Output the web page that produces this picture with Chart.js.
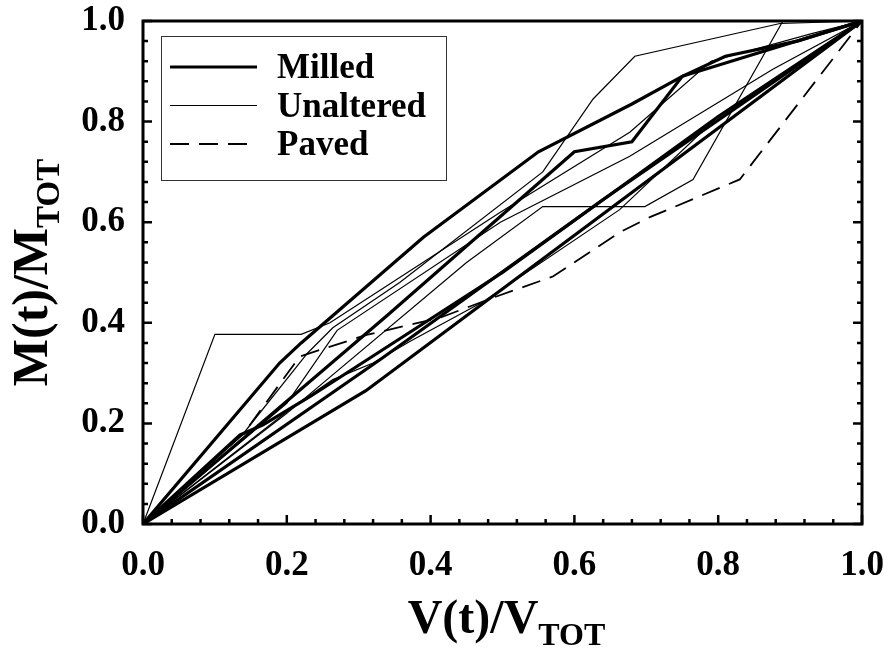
<!DOCTYPE html>
<html>
<head>
<meta charset="utf-8">
<script src="https://cdn.jsdelivr.net/npm/chart.js@4/dist/chart.umd.min.js"></script>
<style>
  html, body { margin: 0; padding: 0; background: #fff; }
  #wrap { width: 888px; height: 651px; }
</style>
</head>
<body>
<div id="wrap"><canvas id="runs" width="888" height="651"></canvas></div>
<script>
// each run is a list of [V(t)/Vtot, M(t)/Mtot] pairs
const milled = [
  [[0, 0], [0.19, 0.32], [0.22, 0.36], [0.39, 0.57], [0.55, 0.74], [0.68, 0.835], [0.75, 0.89], [0.81, 0.93], [0.91, 0.96], [1, 1]],
  [[0, 0], [0.34, 0.415], [0.60, 0.74], [0.68, 0.76], [0.75, 0.89], [1, 1]],
  [[0, 0], [0.135, 0.177], [0.167, 0.197], [0.232, 0.253], [0.5, 0.5], [0.8, 0.81], [1, 1]],
  [[0, 0], [0.33, 0.327], [0.64, 0.645], [1, 1]],
  [[0, 0], [0.31, 0.265], [1, 1]]
];
const unaltered = [
  [[0, 0], [0.10, 0.377], [0.22, 0.377], [0.26, 0.40], [0.497, 0.62], [0.677, 0.779], [0.79, 0.92], [0.93, 0.975], [1, 1]],
  [[0, 0], [0.138, 0.177], [0.229, 0.34], [0.264, 0.39], [0.357, 0.48], [0.556, 0.70], [0.626, 0.845], [0.684, 0.93], [0.886, 0.995], [1, 1]],
  [[0, 0], [0.2, 0.22], [0.45, 0.52], [0.556, 0.631], [0.698, 0.631], [0.765, 0.685], [0.89, 1.0], [1, 1]],
  [[0, 0], [0.2, 0.24], [0.27, 0.385], [0.497, 0.60], [0.677, 0.731], [0.876, 0.904], [1, 1]],
  [[0, 0], [0.209, 0.233], [0.264, 0.287], [0.32, 0.32], [0.371, 0.363], [0.473, 0.442], [0.663, 0.625], [0.8, 0.81], [1, 1]]
];
const paved = [
  [[0, 0], [0.14, 0.18], [0.218, 0.333], [0.311, 0.376], [0.413, 0.41], [0.487, 0.45], [0.57, 0.492], [0.663, 0.58], [0.705, 0.61], [0.83, 0.685], [1, 1]]
];
const legendNames = ["Milled", "Unaltered", "Paved"];
const xTitle = ["V(t)/V", "TOT"];
const yTitle = ["M(t)/M", "TOT"];

const FONT = "'Liberation Serif', 'Times New Roman', serif";
const styles = {
  Milled: { borderWidth: 3.2, borderDash: [] },
  Unaltered: { borderWidth: 1.2, borderDash: [] },
  Paved: { borderWidth: 1.8, borderDash: [19, 10] }
};

const datasets = [];
function addRuns(runs, name) {
  runs.forEach(run => {
    datasets.push({
      label: name,
      data: run.map(p => ({ x: p[0], y: p[1] })),
      showLine: true,
      borderColor: "#000",
      borderWidth: styles[name].borderWidth,
      borderDash: styles[name].borderDash,
      pointRadius: 0,
      tension: 0,
      fill: false
    });
  });
}
addRuns(unaltered, "Unaltered");
addRuns(paved, "Paved");
addRuns(milled, "Milled");

function drawTitle(c, parts, x, y, big, small, drop) {
  c.font = "bold " + big + "px " + FONT;
  const w1 = c.measureText(parts[0]).width;
  c.font = "bold " + small + "px " + FONT;
  const w2 = c.measureText(parts[1]).width;
  const x0 = x - (w1 + w2) / 2;
  c.font = "bold " + big + "px " + FONT;
  c.fillText(parts[0], x0, y);
  c.font = "bold " + small + "px " + FONT;
  c.fillText(parts[1], x0 + w1, y + drop);
}

// frame, inward ticks, legend and axis titles
const decor = {
  id: "decor",
  afterDraw(chart) {
    const c = chart.ctx;
    const a = chart.chartArea;
    const xs = chart.scales.x, ys = chart.scales.y;
    c.save();
    c.strokeStyle = "#000";
    c.lineWidth = 2.5;
    for (let i = 0; i <= 25; i++) {
      const v = i * 0.04;
      const len = i % 5 === 0 ? 9 : 5;
      const px = xs.getPixelForValue(v);
      const py = ys.getPixelForValue(v);
      c.beginPath();
      c.moveTo(px, a.bottom); c.lineTo(px, a.bottom - len);
      c.moveTo(a.left, py); c.lineTo(a.left + len, py);
      c.moveTo(a.right, py); c.lineTo(a.right - len, py);
      c.stroke();
    }
    c.lineWidth = 3;
    c.strokeRect(a.left, a.top, a.right - a.left, a.bottom - a.top);

    // legend
    c.lineWidth = 1;
    c.strokeStyle = "#333";
    c.strokeRect(161.5, 36.5, 285, 144);
    c.fillStyle = "#000";
    c.font = "bold 35px " + FONT;
    c.textBaseline = "middle";
    legendNames.forEach((name, i) => {
      const y = 67 + i * 38.5;
      c.beginPath();
      c.strokeStyle = "#000";
      c.lineWidth = styles[name].borderWidth;
      c.setLineDash(styles[name].borderDash);
      c.moveTo(170, y); c.lineTo(257, y);
      c.stroke();
      c.setLineDash([]);
      c.fillText(name, 277, y + 2);
    });

    c.textBaseline = "alphabetic";
    drawTitle(c, xTitle, (a.left + a.right) / 2 + 4, 633, 48, 32, 12);

    c.save();
    c.translate(47, (a.top + a.bottom) / 2);
    c.rotate(-Math.PI / 2);
    drawTitle(c, yTitle, 0, 0, 50, 33, 12);
    c.restore();
    c.restore();
  }
};

new Chart(document.getElementById("runs"), {
  type: "scatter",
  data: { datasets: datasets },
  options: {
    responsive: false,
    animation: false,
    events: [],
    layout: { padding: { top: 21, right: 26, left: 0, bottom: 0 } },
    plugins: { legend: { display: false }, tooltip: { enabled: false } },
    scales: {
      x: {
        type: "linear", min: 0, max: 1,
        grid: { display: false, drawTicks: false },
        border: { display: false },
        ticks: {
          stepSize: 0.2, padding: 21, color: "#000",
          font: { family: FONT, size: 35, weight: "bold" },
          callback: v => v.toFixed(1),
          maxRotation: 0
        },
        afterFit: s => { s.height = 127; s.paddingLeft = 0; s.paddingRight = 0; }
      },
      y: {
        type: "linear", min: 0, max: 1,
        grid: { display: false, drawTicks: false },
        border: { display: false },
        ticks: {
          stepSize: 0.2, padding: 18, color: "#000",
          font: { family: FONT, size: 35, weight: "bold" },
          callback: v => v.toFixed(1)
        },
        afterFit: s => { s.width = 143; s.paddingTop = 0; s.paddingBottom = 0; }
      }
    }
  },
  plugins: [decor]
});
</script>
</body>
</html>
